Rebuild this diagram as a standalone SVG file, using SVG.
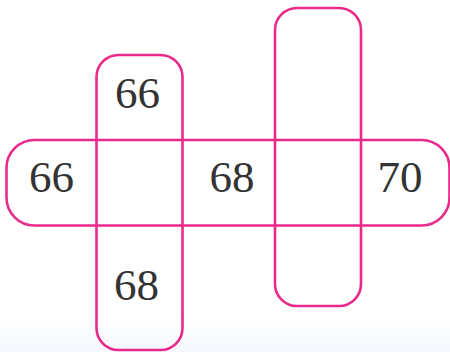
<svg xmlns="http://www.w3.org/2000/svg" width="450" height="352" viewBox="0 0 450 352">
<defs>
<linearGradient id="bg" x1="0" y1="0" x2="0" y2="1">
<stop offset="0" stop-color="#ffffff"/>
<stop offset="0.9" stop-color="#ffffff"/>
<stop offset="1" stop-color="#f4f7fd"/>
</linearGradient>
<style>
.box{fill:none;stroke:#ea2a8a;stroke-width:2.6}
.num{font-family:"Liberation Serif","Times New Roman",serif;font-size:45px;fill:#333333;text-anchor:middle}
</style>
</defs>
<rect x="0" y="0" width="450" height="352" fill="url(#bg)"/>
<g id="connectors"></g>
<g id="row">
<rect class="box" x="6.5" y="140" width="443" height="85.5" rx="28" ry="28"/>
</g>
<g id="col1">
<rect class="box" x="96.5" y="55" width="86" height="295" rx="22" ry="22"/>
</g>
<g id="col2">
<rect class="box" x="275" y="8" width="86" height="298" rx="22" ry="22"/>
</g>
<g id="n1"><text class="num" x="137.5" y="108">66</text></g>
<g id="n2"><text class="num" x="51.5" y="192">66</text></g>
<g id="n3"><text class="num" x="232" y="192">68</text></g>
<g id="n4"><text class="num" x="400" y="192">70</text></g>
<g id="n5"><text class="num" x="136.5" y="300">68</text></g>
</svg>
